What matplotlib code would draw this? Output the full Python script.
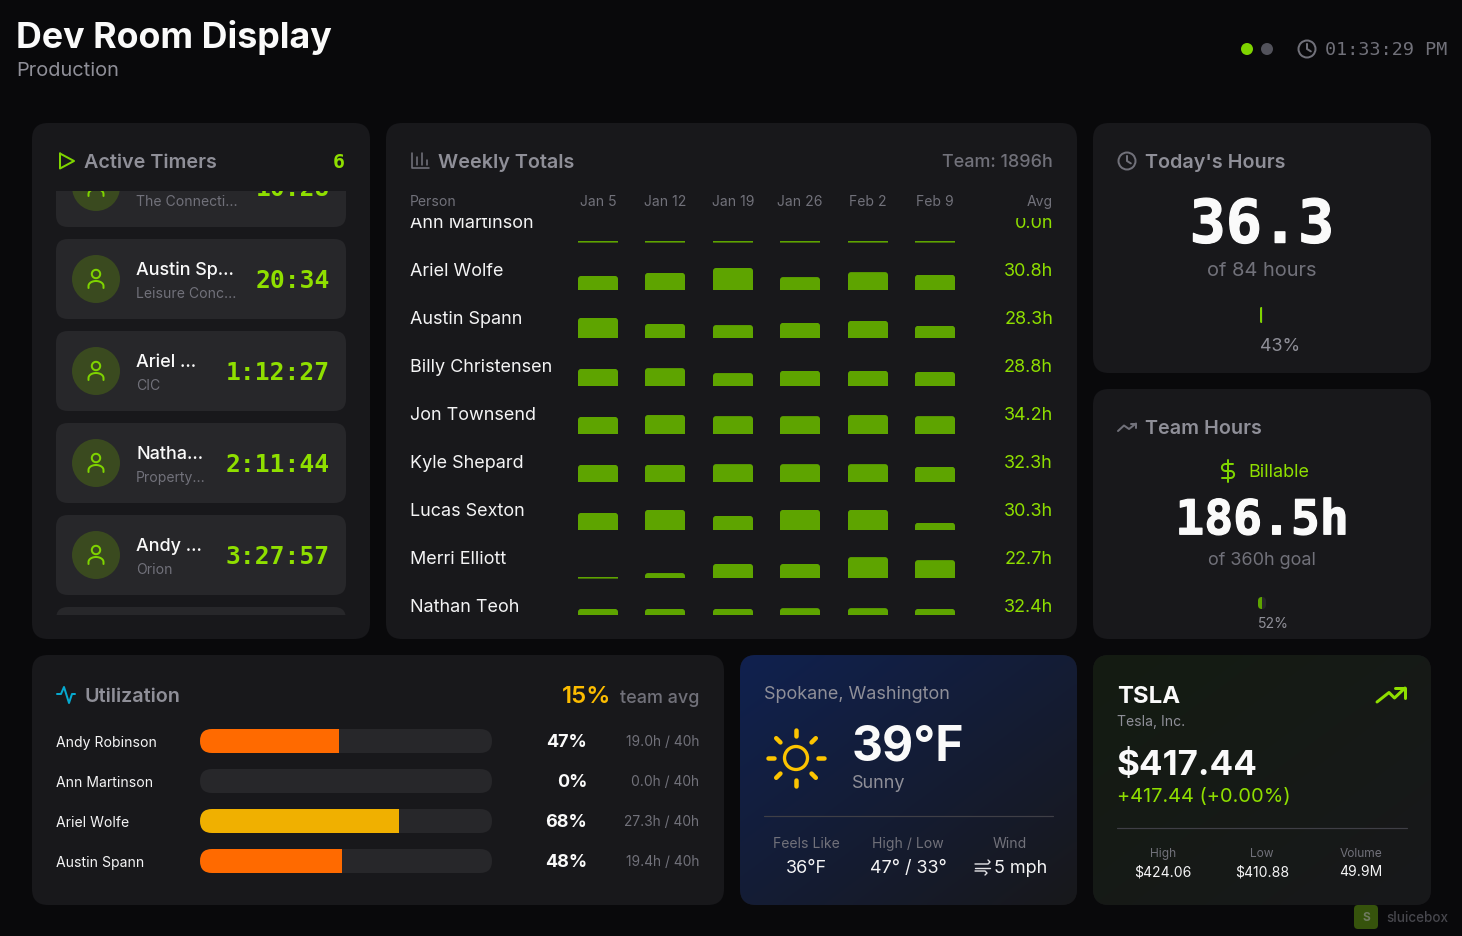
"""Dev Room Display dashboard, drawn on one pixel-sized axes."""

import matplotlib
matplotlib.use("Agg")
import matplotlib.patheffects as pe
import matplotlib.pyplot as plt
import numpy as np
from matplotlib.colors import to_rgb
from matplotlib.patches import Circle, FancyBboxPatch, Rectangle
from matplotlib.path import Path

LIME = "#8fdf00"
ICON_LIME = "#7fd400"
BAR_GREEN = "#5ea400"
PAGE = "#09090b"
CARD = "#18181b"
INNER = "#27272a"
GREY = "#71717a"
LIGHT_GREY = "#8f8f98"
WHITE = "#fafafa"
SANS = "Inter"
MONO = "DejaVu Sans Mono"

# active timers (first row is scrolled mostly out of view)
timer_names = ["", "Austin Sp...", "Ariel ...", "Natha...", "Andy ..."]
timer_projects = ["The Connecti...", "Leisure Conc...", "CIC", "Property...", "Orion"]
timer_values = ["10:28", "20:34", "1:12:27", "2:11:44", "3:27:57"]

# weekly totals
weeks = ["Jan 5", "Jan 12", "Jan 19", "Jan 26", "Feb 2", "Feb 9"]
people = ["Ann Martinson", "Ariel Wolfe", "Austin Spann", "Billy Christensen",
          "Jon Townsend", "Kyle Shepard", "Lucas Sexton", "Merri Elliott",
          "Nathan Teoh"]
averages = ["0.0h", "30.8h", "28.3h", "28.8h", "34.2h", "32.3h", "30.3h",
            "22.7h", "32.4h"]
ann_hours = [0, 0, 0, 0, 0, 0]
ariel_hours = [25.5, 31, 40, 23.5, 32.5, 27.5]
austin_hours = [36.5, 25.5, 23.5, 27.5, 31, 22]
billy_hours = [31, 32.5, 23.5, 27.5, 27.5, 25.5]
jon_hours = [31, 34.5, 32.5, 32.5, 34.5, 32.5]
kyle_hours = [31, 31, 32.5, 32.5, 32.5, 27.5]
lucas_hours = [31, 36.5, 25.5, 36.5, 36.5, 13]
merri_hours = [0, 9, 25.5, 25.5, 38, 32.5]
nathan_hours = [31, 31, 31, 32.5, 32.5, 31]
weekly_hours = [ann_hours, ariel_hours, austin_hours, billy_hours, jon_hours,
                kyle_hours, lucas_hours, merri_hours, nathan_hours]

# utilization
util_names = ["Andy Robinson", "Ann Martinson", "Ariel Wolfe", "Austin Spann"]
util_hours = [19.0, 0.0, 27.3, 19.4]
util_goal = 40
util_pct = ["47%", "0%", "68%", "48%"]
util_colors = ["#ff6a00", "#ff6a00", "#f0b000", "#ff6a00"]

# weather and stock footers
weather_labels = ["Feels Like", "High / Low", "Wind"]
weather_values = ["36°F", "47° / 33°", "5 mph"]
stock_labels = ["High", "Low", "Volume"]
stock_values = ["$424.06", "$410.88", "49.9M"]

today_pct = 43
team_pct = 52

fig = plt.figure(figsize=(14.62, 9.36), dpi=100, facecolor=PAGE)
ax = fig.add_axes([0, 0, 1, 1])
ax.set_xlim(0, 1462)
ax.set_ylim(936, 0)
ax.axis("off")


def label(x, y, s, px, color=WHITE, ha="left", weight="normal", font=SANS, clip=None):
    # y is the middle of the capitals, px the css font size
    t = ax.text(x, y + 0.36 * px, s, fontsize=px * 0.72, color=color, ha=ha,
                va="baseline", family=font, fontweight=weight, zorder=6)
    if clip is not None:
        t.set_clip_on(True)
        t.set_clip_path(clip)
    return t


def big_number(x, y, s, px):
    # the two large read-outs are a touch heavier than DejaVu's bold
    t = label(x, y, s, px, ha="center", weight="bold", font=MONO)
    t.set_path_effects([pe.withStroke(linewidth=0.9, foreground=WHITE)])


def rrect(x0, y0, x1, y1, r, color, zorder=1, clip=None):
    p = FancyBboxPatch((x0, y0), x1 - x0, y1 - y0,
                       boxstyle=f"round,pad=0,rounding_size={r}",
                       fc=color, ec="none", zorder=zorder)
    ax.add_patch(p)
    if clip is not None:
        p.set_clip_path(clip)
    return p


def stroke(xs, ys, color, width=2.0, clip=None, zorder=5):
    line, = ax.plot(xs, ys, color=color, lw=width * 0.72, zorder=zorder,
                    solid_capstyle="round", solid_joinstyle="round")
    if clip is not None:
        line.set_clip_path(clip)


def ring(x, y, r, color, width=2.0, fill="none", clip=None, zorder=5):
    c = Circle((x, y), r, fc=fill, ec=color, lw=width * 0.72, zorder=zorder)
    ax.add_patch(c)
    if clip is not None:
        c.set_clip_path(clip)


def clock_icon(x, y, r, color):
    ring(x, y, r, color)
    stroke([x, x, x + r * 0.45], [y - r * 0.6, y, y + r * 0.28], color)


def gradient_card(x0, y0, x1, y1, start, end):
    card = rrect(x0, y0, x1, y1, 16, CARD)
    u, v = np.meshgrid(np.linspace(0, 1, 80), np.linspace(0, 1, 80))
    t = ((u + v) / 2)[..., None]
    img = np.array(to_rgb(start)) * (1 - t) + np.array(to_rgb(end)) * t
    im = ax.imshow(img, extent=(x0, x1, y1, y0), aspect="auto", zorder=1.5,
                   interpolation="bilinear")
    im.set_clip_path(card)


def top_round_path(x0, x1, top, bottom, r):
    verts = [(x0, bottom), (x0, top + r), (x0, top), (x0 + r, top), (x1 - r, top),
             (x1, top), (x1, top + r), (x1, bottom), (x0, bottom)]
    codes = [Path.MOVETO, Path.LINETO, Path.CURVE3, Path.CURVE3, Path.LINETO,
             Path.CURVE3, Path.CURVE3, Path.LINETO, Path.CLOSEPOLY]
    return Path(verts, codes)


# ---- header
label(16, 35, "Dev Room Display", 35.8, weight="bold")
label(16, 69, "Production", 20, color=LIGHT_GREY)
ax.add_patch(Circle((1247, 49), 6, fc=ICON_LIME, ec="none"))
ax.add_patch(Circle((1267, 49), 6, fc="#52525b", ec="none"))
clock_icon(1307, 49, 8.5, GREY)
label(1447, 48, "01:33:29 PM", 18.4, color=GREY, ha="right", font=MONO)

# ---- cards
rrect(32, 123, 370, 639, 16, CARD)
rrect(386, 123, 1077, 639, 16, CARD)
rrect(1093, 123, 1431, 373, 16, CARD)
rrect(1093, 389, 1431, 639, 16, CARD)
rrect(32, 655, 724, 905, 16, CARD)
gradient_card(740, 655, 1077, 905, "#10214f", CARD)
gradient_card(1093, 655, 1431, 905, "#141c12", CARD)

# ---- active timers
stroke([60, 74, 60, 60], [153.5, 161, 168.5, 153.5], ICON_LIME)
label(84, 161, "Active Timers", 19.8, color=LIGHT_GREY, weight="semibold")
label(345, 161, "6", 20, color=LIME, ha="right", weight="bold", font=MONO)

timer_clip = Rectangle((32, 191), 338, 424, transform=ax.transData)
for i in range(len(timer_names)):
    cy = 187 + 92 * i
    rrect(56, cy - 40, 346, cy + 40, 12, INNER, zorder=2, clip=timer_clip)
    ring(96, cy, 24, "none", width=0, fill="#3a4a1f", clip=timer_clip, zorder=3)
    ring(96, cy - 5, 4.2, ICON_LIME, clip=timer_clip)
    t = np.linspace(np.pi, 2 * np.pi, 20)
    stroke(np.r_[88.5, 96 + 7.5 * np.cos(t), 103.5],
           np.r_[cy + 9, cy + 7 + 5 * np.sin(t), cy + 9],
           ICON_LIME, clip=timer_clip)
    if timer_names[i]:
        label(136, cy - 10, timer_names[i], 18, weight="medium", clip=timer_clip)
    label(136, cy + 14, timer_projects[i], 14, color=GREY, clip=timer_clip)
    label(330, cy, timer_values[i], 24.6, color=LIME, ha="right", weight="bold",
          font=MONO, clip=timer_clip)
# the next row just peeks in at the bottom
rrect(56, 607, 346, 680, 12, INNER, zorder=2, clip=timer_clip)

# ---- weekly totals
for xs, ys in [([411.5, 411.5, 428.5], [153, 168, 168]), ([416.5, 416.5], [157, 165]),
               ([422, 422], [153, 165]), ([427, 427], [160, 165])]:
    stroke(xs, ys, GREY, width=1.6)
label(438, 161, "Weekly Totals", 19.8, color=LIGHT_GREY, weight="semibold")
label(1053, 161, "Team: 1896h", 18, color=GREY, ha="right", weight="medium")
label(410, 201, "Person", 14, color=GREY)
label(1053, 201, "Avg", 14, color=GREY, ha="right")

week_lefts = [578, 645, 713, 780, 848, 915]
bar_width = 40
px_per_hour = 0.55
rows_clip = Rectangle((386, 218), 691, 397, transform=ax.transData)
for x, w in zip(week_lefts, weeks):
    label(x + bar_width / 2, 201, w, 14, color=GREY, ha="center")
for i, person in enumerate(people):
    base = 242 + 48 * i
    label(410, base - 20, person, 18, color="#f4f4f5", clip=rows_clip)
    label(1053, base - 20, averages[i], 18, color=LIME, ha="right", clip=rows_clip)
    heights = [max(h * px_per_hour, 1.6) for h in weekly_hours[i]]
    bars = ax.bar(week_lefts, [-h for h in heights], bottom=base, width=bar_width,
                  align="edge", color=BAR_GREEN, zorder=3)
    for rect, h, x in zip(bars, heights, week_lefts):
        if h <= 1.6:
            # empty weeks are just a hairline, a little soft at the bottom
            rect.set_y(base + 0.6)
            rect.set_snap(False)
            continue
        bottom = min(base, 615)
        rect.set_clip_path(top_round_path(x, x + bar_width, base - h, bottom, 3),
                           ax.transData)

# ---- today's hours
clock_icon(1127, 161, 8.5, GREY)
label(1145, 161, "Today's Hours", 19.8, color=LIGHT_GREY, weight="semibold")
big_number(1262, 221, "36.3", 60)
label(1262, 269, "of 84 hours", 20, color=GREY, ha="center")
track = rrect(1260, 307, 1263, 323, 1.5, INNER, zorder=3)
fill = Rectangle((1260, 307), 3 * today_pct / 100 + 0.5, 16, fc=ICON_LIME, ec="none", zorder=4)
ax.add_patch(fill)
fill.set_clip_path(track)
label(1280, 344.5, f"{today_pct}%", 18, color=LIGHT_GREY, ha="center")

# ---- team hours
stroke([1118, 1124, 1129, 1136], [431, 425.5, 429, 423.5], GREY)
stroke([1131, 1136, 1136], [423.5, 423.5, 428], GREY)
label(1145, 427, "Team Hours", 19.8, color=LIGHT_GREY, weight="semibold")
# dollar sign icon
stroke([1228, 1228], [460, 482], ICON_LIME)
a = np.linspace(np.pi / 2, 3 * np.pi / 2, 16)
b = a[::-1] - np.pi
stroke(np.r_[1233, 1225.5 + 3.6 * np.cos(a), 1230.5 + 3.6 * np.cos(b), 1222],
       np.r_[464, 467.5 - 3.5 * np.sin(a), 474.5 - 3.5 * np.sin(b), 478], ICON_LIME)
label(1248, 471, "Billable", 18, color=LIME)
big_number(1262, 517, "186.5h", 48)
label(1262, 559, "of 360h goal", 18, color=GREY, ha="center")
track = rrect(1258, 597, 1266, 609, 4, INNER, zorder=3)
fill = Rectangle((1258, 597), 8 * team_pct / 100, 12, fc=BAR_GREEN, ec="none", zorder=4)
ax.add_patch(fill)
fill.set_clip_path(track)
label(1273, 623, f"{team_pct}%", 14, color=LIGHT_GREY, ha="center")

# ---- utilization
stroke([57, 61, 64, 69, 72, 75], [694, 694, 687, 703, 694, 694], "#06a9cf")
label(84, 695, "Utilization", 19.8, color=LIGHT_GREY, weight="semibold")
label(611, 694, "15%", 24, color="#fcbc00", ha="right", weight="semibold")
label(699, 697, "team avg", 18, color=GREY, ha="right", weight="medium")
track_left, track_width = 200, 292
for i, name in enumerate(util_names):
    cy = 741 + 40 * i
    label(56, cy + 1, name, 14, color="#f4f4f5")
    track = rrect(track_left, cy - 12, track_left + track_width, cy + 12, 12, INNER, zorder=2)
    bar = ax.barh(cy, util_hours[i] / util_goal * track_width, left=track_left,
                  height=24, color=util_colors[i], zorder=3)
    bar[0].set_clip_path(track)
    label(587, cy, util_pct[i], 18, ha="right", weight="bold")
    label(699, cy, f"{util_hours[i]:.1f}h / {util_goal}h", 13.8, color=GREY, ha="right")

# ---- weather
SUN = "#fcc400"
label(764, 693, "Spokane, Washington", 18, color=LIGHT_GREY)
ring(796, 758, 11.5, SUN, width=3.3)
for ang in np.deg2rad(np.arange(0, 360, 45)):
    stroke([796 + 22 * np.cos(ang), 796 + 28 * np.cos(ang)],
           [758 + 22 * np.sin(ang), 758 + 28 * np.sin(ang)], SUN, width=4.5)
label(852, 743.5, "39°F", 48, weight="bold")
label(852, 782, "Sunny", 18, color=LIGHT_GREY)
stroke([764, 1053], [816, 816], "#3f3f46", width=1.2)
for x, lab, val in zip([806, 908], weather_labels[:2], weather_values[:2]):
    label(x, 843, lab, 14, color=GREY, ha="center")
    label(x, 867, val, 18, color="#f4f4f5", ha="center")
label(1010, 843, weather_labels[2], 14, color=GREY, ha="center")
label(994, 867, weather_values[2], 18, color="#f4f4f5")
stroke([975, 988, 990, 988], [864, 864, 862, 860], "#e4e4e7", width=1.4)
stroke([975, 990], [867.5, 867.5], "#e4e4e7", width=1.4)
stroke([975, 985, 987, 985], [871, 871, 873, 875], "#e4e4e7", width=1.4)

# ---- stock
label(1117, 694, "TSLA", 24, weight="bold")
label(1117, 721, "Tesla, Inc.", 14, color=LIGHT_GREY)
label(1117, 762, "$417.44", 35, weight="bold")
label(1117, 795, "+417.44 (+0.00%)", 20, color=LIME)
stroke([1377, 1389, 1394.5, 1405], [702, 692.5, 698, 688], LIME, width=3)
stroke([1395, 1405, 1405], [688, 688, 698], LIME, width=3)
stroke([1117, 1407], [828, 828], "#3f3f46", width=1.2)
for x, lab, val in zip([1163, 1262, 1361], stock_labels, stock_values):
    label(x, 853, lab, 12, color=GREY, ha="center")
    label(x, 871, val, 14, color="#f4f4f5", ha="center")

# ---- watermark
rrect(1354, 905, 1378, 929, 4, "#36530c", zorder=7)
t = label(1366, 917, "S", 12, color="#6f7a60", ha="center", weight="bold")
t.set_zorder(8)
label(1386, 917, "sluicebox", 13.5, color="#47474d", weight="medium")

fig.savefig("out.png", dpi=100, facecolor=PAGE)
plt.close(fig)
